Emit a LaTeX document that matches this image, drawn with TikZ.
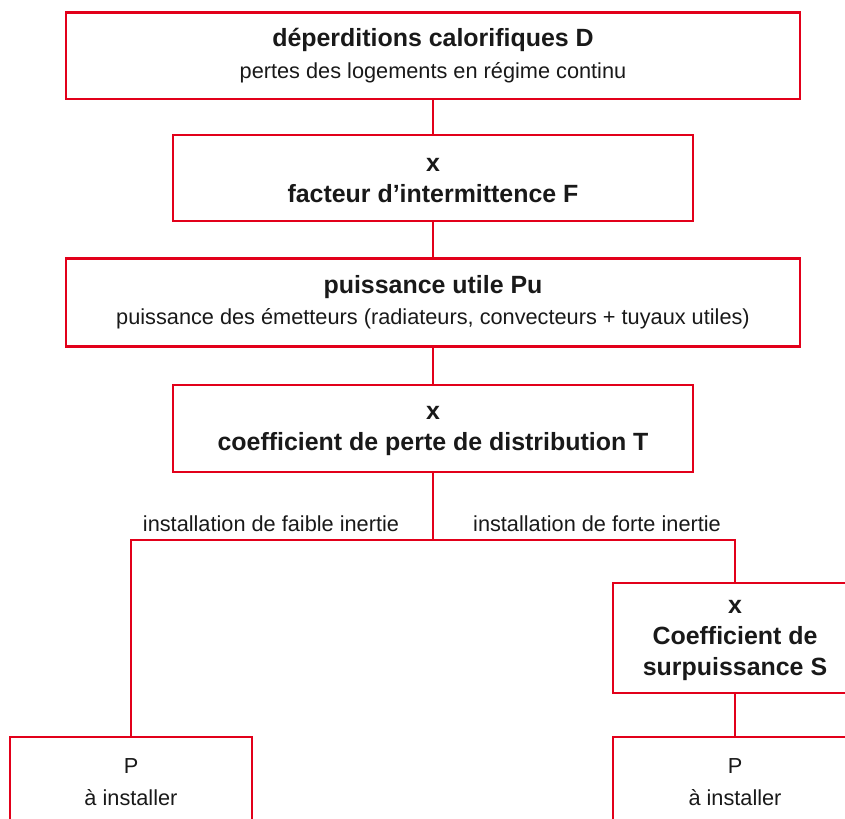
\documentclass[tikz,border=0pt]{standalone}
\usepackage{fontspec}
\setmainfont{Liberation Sans}
\definecolor{boxred}{HTML}{E2001A}
\newcommand\boxhead[1]{{\fontsize{18.7}{23.5}\bfseries #1}}
\tikzset{
  box/.style={rectangle, draw=boxred, line width=2pt, align=center, inner sep=0pt,
    text=black!90, font=\fontsize{16.3}{23.5}\selectfont},
  widebox/.style={box, minimum width=550.5pt, minimum height=65pt},
  midbox/.style={box, minimum width=390pt, minimum height=64.5pt},
  smallbox/.style={box, minimum width=183pt, minimum height=67.5pt},
  link/.style={draw=boxred, line width=2pt},
  branch/.style={anchor=base, text=black!90, font=\fontsize{16.3}{23.5}\selectfont},
}
\begin{document}
\begin{tikzpicture}[x=0.75pt, y=-0.75pt]
  \useasboundingbox (0,0) rectangle (845,818);
  \clip (0,0) rectangle (845,818);
  % main chain
  \node[widebox] (D) at (433,55.5)
    {\boxhead{déperditions calorifiques D}\\pertes des logements en régime continu};
  \node[midbox] (F) at (433,178)
    {\boxhead{x\vphantom{d}}\\\boxhead{facteur d’intermittence F}};
  \node[widebox, minimum height=66pt] (Pu) at (433,302.5)
    {\boxhead{puissance utile Pu}\\puissance des émetteurs (radiateurs, convecteurs + tuyaux utiles)};
  \node[midbox, minimum height=65.25pt] (T) at (433,428.5)
    {\boxhead{x\vphantom{d}}\\\boxhead{coefficient de perte de distribution T}};
  % branches
  \coordinate (split) at (433,540);
  \node[branch] (faible) at (271,531) {installation de faible inertie};
  \node[branch] (forte) at (597,531) {installation de forte inertie};
  \node[smallbox, minimum height=82.5pt] (S) at (735,638)
    {\boxhead{x\vphantom{d}}\\\boxhead{Coefficient de}\\\boxhead{surpuissance S}};
  \node[smallbox, minimum width=181.5pt] (PL) at (131,782) {P\\à installer};
  \node[smallbox] (PR) at (735,782) {P\\à installer};
  % connectors
  \draw[link] (D) -- (F);
  \draw[link] (F) -- (Pu);
  \draw[link] (Pu) -- (T);
  \draw[link] (T) -- (split);
  \draw[link] (split) -| (PL);
  \draw[link] (split) -| (S);
  \draw[link] (S) -- (PR);
\end{tikzpicture}
\end{document}
